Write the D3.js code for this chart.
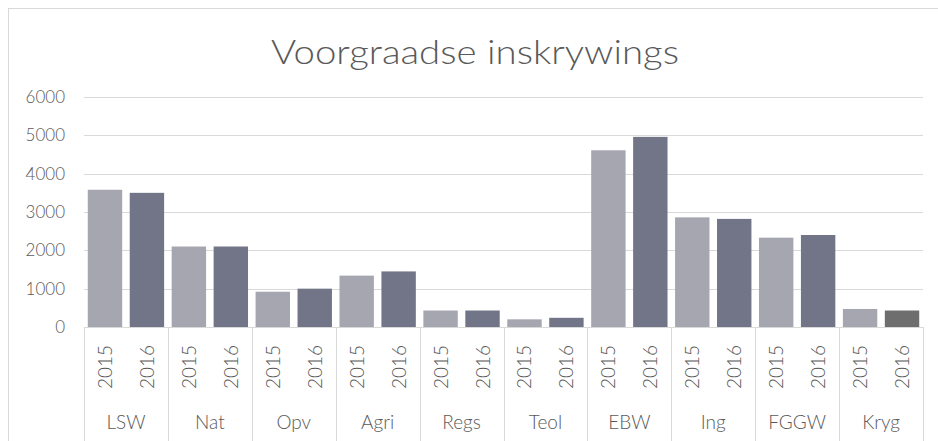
<!DOCTYPE html>
<html>
<head>
<meta charset="utf-8">
<script src="https://cdn.jsdelivr.net/npm/d3@7"></script>
<style>
  body { margin: 0; background: #fff; }
  text { font-family: Lato, "Open Sans", sans-serif; fill: #595959; font-weight: 300; }
</style>
</head>
<body>
<svg id="chart" width="938" height="441"></svg>
<script>
var categories = ['LSW', 'Nat', 'Opv', 'Agri', 'Regs', 'Teol', 'EBW', 'Ing', 'FGGW', 'Kryg'];
var years = ['2015', '2016'];
var values2015 = [3580, 2100, 920, 1340, 430, 200, 4610, 2860, 2330, 470];
var values2016 = [3500, 2100, 1000, 1450, 430, 240, 4960, 2820, 2400, 430];
var yTicks = [0, 1000, 2000, 3000, 4000, 5000, 6000];

var svg = d3.select('#chart');
var plotLeft = 84, plotRight = 923, plotTop = 97, plotBottom = 327;

// chart frame
svg.append('rect')
    .attr('x', 8.5).attr('y', 8.5)
    .attr('width', 940).attr('height', 450)
    .attr('fill', 'none')
    .attr('stroke', '#d9d9d9');

svg.append('text')
    .attr('x', 475).attr('y', 64)
    .attr('text-anchor', 'middle')
    .attr('font-size', 33)
    .attr('textLength', 408)
    .attr('lengthAdjust', 'spacingAndGlyphs')
    .text('Voorgraadse inskrywings');

var y = d3.scaleLinear().domain([0, 6000]).range([plotBottom, plotTop]);
var x0 = d3.scaleBand().domain(categories).range([plotLeft, plotRight]);
var x1 = d3.scaleBand().domain(years).range([0, x0.bandwidth()])
    .paddingInner(0.18).paddingOuter(0.09);

// gridlines
svg.append('g').selectAll('line')
    .data(yTicks.slice(1))
    .enter().append('line')
    .attr('x1', plotLeft).attr('x2', plotRight)
    .attr('y1', function(d) { return Math.round(y(d)) + 0.5; })
    .attr('y2', function(d) { return Math.round(y(d)) + 0.5; })
    .attr('stroke', '#d9d9d9');

svg.append('g').selectAll('text')
    .data(yTicks)
    .enter().append('text')
    .attr('x', 65)
    .attr('y', function(d) { return y(d) + 6; })
    .attr('text-anchor', 'end')
    .attr('font-size', 17)
    .text(function(d) { return d; });

var rows = categories.map(function(c, i) {
    return { cat: c, vals: [values2015[i], values2016[i]] };
});

var groups = svg.append('g').selectAll('g')
    .data(rows)
    .enter().append('g')
    .attr('transform', function(d) { return 'translate(' + x0(d.cat) + ',0)'; });

groups.selectAll('rect')
    .data(function(d) {
        return years.map(function(yr, j) { return { cat: d.cat, year: yr, v: d.vals[j] }; });
    })
    .enter().append('rect')
    .attr('x', function(d) { return x1(d.year); })
    .attr('width', x1.bandwidth())
    .attr('y', function(d) { return y(d.v); })
    .attr('height', function(d) { return plotBottom - y(d.v); })
    .attr('fill', function(d) {
        if (d.year == '2015') return '#a5a6b0';
        return d.cat == 'Kryg' ? '#6e6e6e' : '#727587';
    });

// axis baseline and category separators
svg.append('line')
    .attr('x1', plotLeft).attr('x2', plotRight)
    .attr('y1', plotBottom + 0.5).attr('y2', plotBottom + 0.5)
    .attr('stroke', '#d9d9d9');

svg.append('g').selectAll('line')
    .data(categories.concat(['end']))
    .enter().append('line')
    .attr('x1', function(d, i) { return Math.round(plotLeft + i * x0.bandwidth()) + 0.5; })
    .attr('x2', function(d, i) { return Math.round(plotLeft + i * x0.bandwidth()) + 0.5; })
    .attr('y1', plotBottom).attr('y2', 441)
    .attr('stroke', '#d9d9d9');

groups.selectAll('text.year')
    .data(years)
    .enter().append('text')
    .attr('class', 'year')
    .attr('font-size', 19)
    .attr('text-anchor', 'middle')
    .attr('transform', function(d) {
        return 'translate(' + (x1(d) + x1.bandwidth() / 2 + 7) + ',367) rotate(-90)';
    })
    .text(function(d) { return d; });

groups.append('text')
    .attr('x', x0.bandwidth() / 2)
    .attr('y', 429)
    .attr('text-anchor', 'middle')
    .attr('font-size', 19)
    .text(function(d) { return d.cat; });
</script>
</body>
</html>
